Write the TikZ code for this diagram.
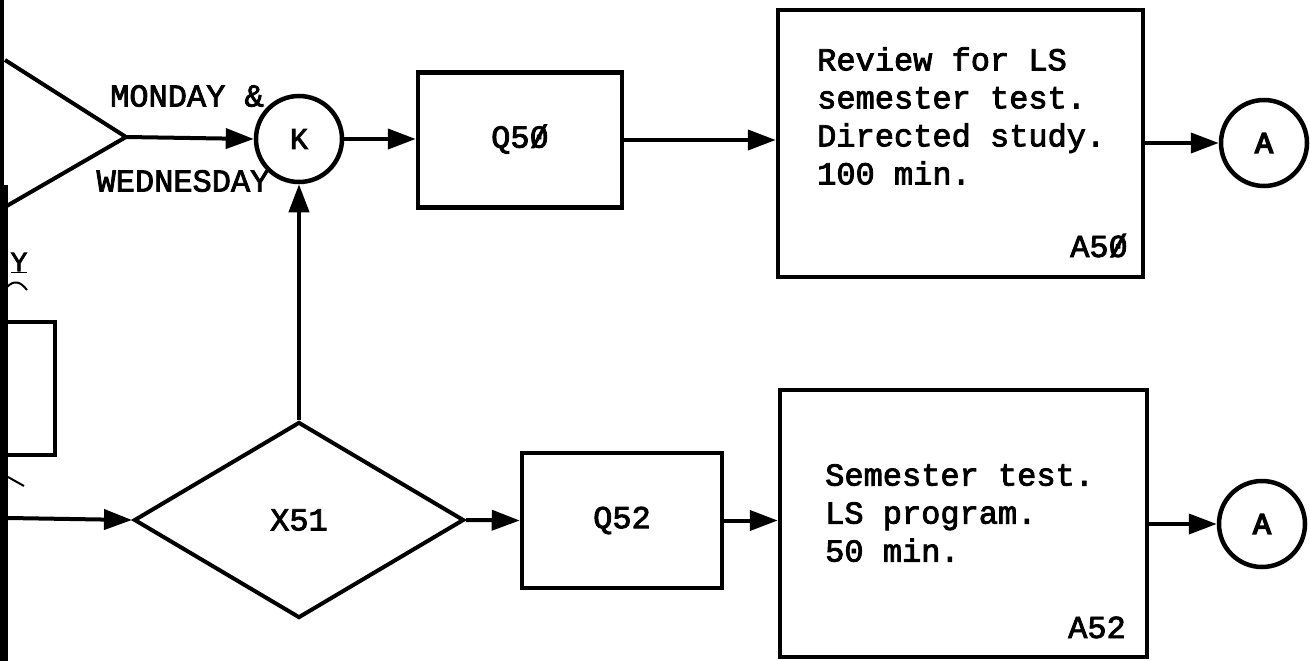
\documentclass[tikz,border=0pt]{standalone}
\usepackage{fontspec}
\usepackage{graphicx}
\newfontfamily\typew{Liberation Mono}[FakeBold=2.6]
\newfontfamily\typewheavy{Liberation Mono}[FakeBold=5]
\usetikzlibrary{arrows.meta,shapes.geometric}
% typewriter slashed zero
\newcommand\slzero{\ooalign{0\cr\hidewidth/\hidewidth\cr}}
\begin{document}
\begin{tikzpicture}[x=1pt, y=-1pt, line join=miter,
  typed/.style={font=\typew\fontsize{32}{38}\selectfont, inner sep=0pt},
  box/.style={draw, line width=4.5pt, inner sep=0pt},
  conn/.style={circle, draw, line width=4.5pt, minimum size=86pt, inner sep=0pt,
               font=\typew\fontsize{30}{36}\selectfont},
  exitconn/.style={conn, font=\typewheavy\fontsize{30}{36}\selectfont},
  flow/.style={line width=4pt, -{Triangle[length=28pt,width=20pt]}},
  outline/.style={line width=4pt}]
\useasboundingbox (0,0) rectangle (1310,661);

% page margin bar
\draw[line width=4pt] (2,0) -- (2,190);
\draw[line width=7.5pt] (3.75,185) -- (3.75,661);

% merge wedge on the left
\coordinate (apex) at (126,137);
\draw[outline] (5,60) -- (apex) -- (5,207);

% cut-off box and marks at the left edge
\draw[line width=3.5pt] (7,322) -- (55,322) -- (55,455) -- (7,455);
\node[inner sep=0pt, font=\typew\fontsize{28}{30}\selectfont] (ylab) at (19,263) {\underline{Y}};
\draw[line width=2pt] (7,287) .. controls (14,280) and (20,281) .. (27,290);
\draw[line width=2pt] (8,477) -- (24,486);
\coordinate (bin) at (8,518);

% top row
\node[conn] (K) at (299,139) {K};
\node[box, typed, minimum width=204pt, minimum height=135pt] (Q50) at (520,140) {Q5\slzero};
\node[box, minimum width=365pt, minimum height=267pt] (R50) at (960.5,143.5) {};
\node[typed, anchor=north west, align=left] (R50txt) at (817,47)
  {Review for LS\\semester test.\\Directed study.\\100 min.};
\node[typed, anchor=base east] (R50id) at (1128,257) {A5\slzero};
\node[exitconn] (A1) at (1264,143) {A};

\node[typed] (mon) at (187,96) {MONDAY \&};
\node[typed] (wed) at (183,181) {WEDNESDAY};

% bottom row
\node[diamond, draw, line width=4pt, inner sep=0pt, minimum width=330pt,
      minimum height=196pt, typed] (X51) at (299,520) {X51};
\node[box, typed, minimum width=200pt, minimum height=135pt] (Q52) at (622,520.5) {Q52};
\node[box, minimum width=367pt, minimum height=267pt] (S52) at (963.5,523.5) {};
\node[typed, anchor=north west, align=left] (S52txt) at (825,464)
  {Semester test.\\LS program.\\50 min.};
\node[typed, anchor=base east] (S52id) at (1126,638) {A52};
\node[exitconn] (A2) at (1262,524) {A};

% connectors
\draw[flow] (apex) -- (K.west);
\draw[flow] (K.east) -- (K.east -| Q50.west);
\draw[flow] (Q50.east) -- (Q50.east -| R50.west);
\draw[flow] (R50.east |- A1) -- (A1.west);
\draw[flow] (X51.north) -- (K.south);
\draw[flow] (bin) -- (X51.west);
\draw[flow] (X51.east) -- (Q52.west);
\draw[flow] (Q52.east) -- (Q52.east -| S52.west);
\draw[flow] (S52.east |- A2) -- (A2.west);
\end{tikzpicture}
\end{document}
